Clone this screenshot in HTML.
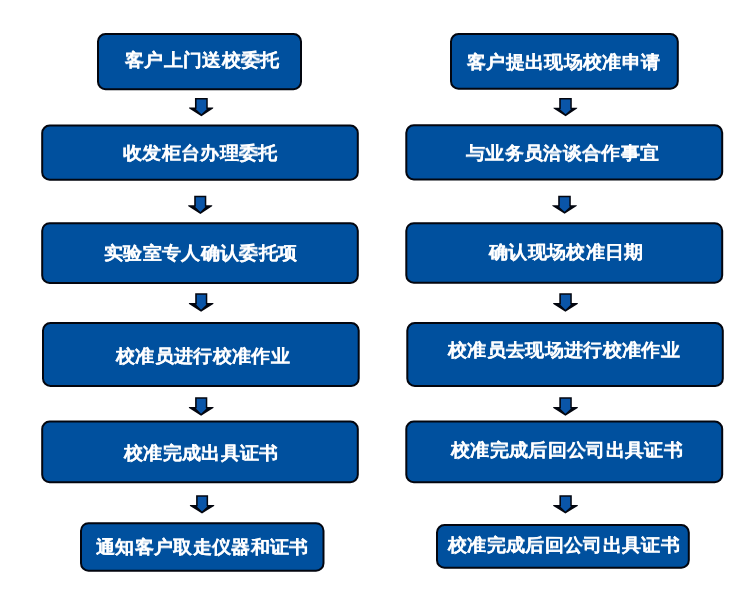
<!DOCTYPE html>
<html><head><meta charset="utf-8"><style>
html,body{margin:0;padding:0;background:#fff;width:750px;height:610px;overflow:hidden}
.t{position:absolute;font-family:"Liberation Sans",sans-serif;font-weight:bold;font-size:19.3px;line-height:19.3px;letter-spacing:0.35px;color:#fff;white-space:nowrap;-webkit-text-stroke:0.12px #fff;transform:scaleY(0.94);transform-origin:0 0;will-change:transform}
svg{position:absolute;left:0;top:0}
</style></head><body>
<svg width="750" height="610" viewBox="0 0 750 610"><g fill="#00509e" stroke="#03060f" stroke-width="2.0">
<rect x="98.00" y="34.00" width="203.00" height="55.20" rx="7.50"/>
<rect x="42.20" y="125.50" width="315.60" height="54.20" rx="7.50"/>
<rect x="42.20" y="223.20" width="315.60" height="59.70" rx="7.50"/>
<rect x="43.00" y="323.00" width="315.70" height="62.90" rx="7.50"/>
<rect x="42.20" y="421.50" width="315.60" height="60.70" rx="7.50"/>
<rect x="81.00" y="523.20" width="242.50" height="47.50" rx="7.50"/>
<rect x="451.00" y="34.00" width="226.80" height="54.70" rx="7.50"/>
<rect x="406.30" y="125.30" width="315.90" height="54.10" rx="7.50"/>
<rect x="406.30" y="223.20" width="315.90" height="59.50" rx="7.50"/>
<rect x="407.30" y="323.00" width="315.50" height="62.90" rx="7.50"/>
<rect x="406.30" y="421.50" width="315.90" height="60.70" rx="7.50"/>
<rect x="437.00" y="525.00" width="251.80" height="42.70" rx="7.50"/>
</g><g fill="#03060f">
<path d="M194.96,98.05 L207.76,98.05 L207.76,107.60 L213.30,107.60 L213.05,108.50 L201.40,116.20 L189.25,108.50 L189.00,107.60 L194.96,107.60 Z"/>
<path d="M194.20,195.80 L206.30,195.80 L206.30,205.30 L212.30,205.30 L212.05,206.20 L200.40,214.00 L188.35,206.20 L188.10,205.30 L194.20,205.30 Z"/>
<path d="M195.20,293.20 L207.30,293.20 L207.30,303.00 L213.50,303.00 L213.25,303.90 L201.10,311.80 L189.05,303.90 L188.80,303.00 L195.20,303.00 Z"/>
<path d="M195.10,397.20 L207.30,397.20 L207.30,407.00 L213.60,407.00 L213.35,407.90 L201.10,415.80 L189.05,407.90 L188.80,407.00 L195.10,407.00 Z"/>
<path d="M196.10,495.20 L208.10,495.20 L208.10,505.00 L214.30,505.00 L214.05,505.90 L202.00,513.50 L190.05,505.90 L189.80,505.00 L196.10,505.00 Z"/>
<path d="M559.20,98.05 L571.80,98.05 L571.80,107.65 L577.30,107.65 L577.05,108.55 L565.60,116.20 L553.65,108.55 L553.40,107.65 L559.20,107.65 Z"/>
<path d="M558.20,195.75 L570.80,195.75 L570.80,205.20 L576.90,205.20 L576.65,206.10 L564.60,213.80 L552.45,206.10 L552.20,205.20 L558.20,205.20 Z"/>
<path d="M559.30,293.30 L571.80,293.30 L571.80,303.00 L577.90,303.00 L577.65,303.90 L565.40,311.80 L553.35,303.90 L553.10,303.00 L559.30,303.00 Z"/>
<path d="M559.30,397.30 L571.80,397.30 L571.80,407.00 L577.90,407.00 L577.65,407.90 L565.40,415.80 L553.35,407.90 L553.10,407.00 L559.30,407.00 Z"/>
<path d="M559.40,495.20 L571.80,495.20 L571.80,505.00 L577.90,505.00 L577.65,505.90 L565.40,513.50 L553.35,505.90 L553.10,505.00 L559.40,505.00 Z"/>
</g><g fill="#0a55a8">
<path d="M196.56,99.55 L206.26,99.55 L206.26,108.80 L206.96,109.10 L201.40,114.20 L195.76,109.10 L196.56,108.80 Z"/>
<path d="M195.80,197.30 L204.80,197.30 L204.80,206.50 L205.50,206.80 L200.40,212.00 L195.00,206.80 L195.80,206.50 Z"/>
<path d="M196.80,294.70 L205.80,294.70 L205.80,304.20 L206.50,304.50 L201.10,309.80 L196.00,304.50 L196.80,304.20 Z"/>
<path d="M196.70,398.70 L205.80,398.70 L205.80,408.20 L206.50,408.50 L201.10,413.80 L195.90,408.50 L196.70,408.20 Z"/>
<path d="M197.70,496.70 L206.60,496.70 L206.60,506.20 L207.30,506.50 L202.00,511.50 L196.90,506.50 L197.70,506.20 Z"/>
<path d="M560.80,99.55 L570.30,99.55 L570.30,108.85 L571.00,109.15 L565.60,114.20 L560.00,109.15 L560.80,108.85 Z"/>
<path d="M559.80,197.25 L569.30,197.25 L569.30,206.40 L570.00,206.70 L564.60,211.80 L559.00,206.70 L559.80,206.40 Z"/>
<path d="M560.90,294.80 L570.30,294.80 L570.30,304.20 L571.00,304.50 L565.40,309.80 L560.10,304.50 L560.90,304.20 Z"/>
<path d="M560.90,398.80 L570.30,398.80 L570.30,408.20 L571.00,408.50 L565.40,413.80 L560.10,408.50 L560.90,408.20 Z"/>
<path d="M561.00,496.70 L570.30,496.70 L570.30,506.20 L571.00,506.50 L565.40,511.50 L560.20,506.50 L561.00,506.20 Z"/>
</g></svg>
<div class="t" style="left:125.10px;top:50.70px">客户上门送校委托</div>
<div class="t" style="left:123.45px;top:143.80px">收发柜台办理委托</div>
<div class="t" style="left:104.00px;top:244.10px">实验室专人确认委托项</div>
<div class="t" style="left:115.50px;top:347.15px">校准员进行校准作业</div>
<div class="t" style="left:123.60px;top:444.30px">校准完成出具证书</div>
<div class="t" style="left:95.80px;top:538.00px">通知客户取走仪器和证书</div>
<div class="t" style="left:466.90px;top:52.60px">客户提出现场校准申请</div>
<div class="t" style="left:465.50px;top:143.55px">与业务员洽谈合作事宜</div>
<div class="t" style="left:489.20px;top:243.00px">确认现场校准日期</div>
<div class="t" style="left:447.60px;top:341.30px">校准员去现场进行校准作业</div>
<div class="t" style="left:450.70px;top:441.10px">校准完成后回公司出具证书</div>
<div class="t" style="left:447.65px;top:535.80px">校准完成后回公司出具证书</div>
</body></html>
